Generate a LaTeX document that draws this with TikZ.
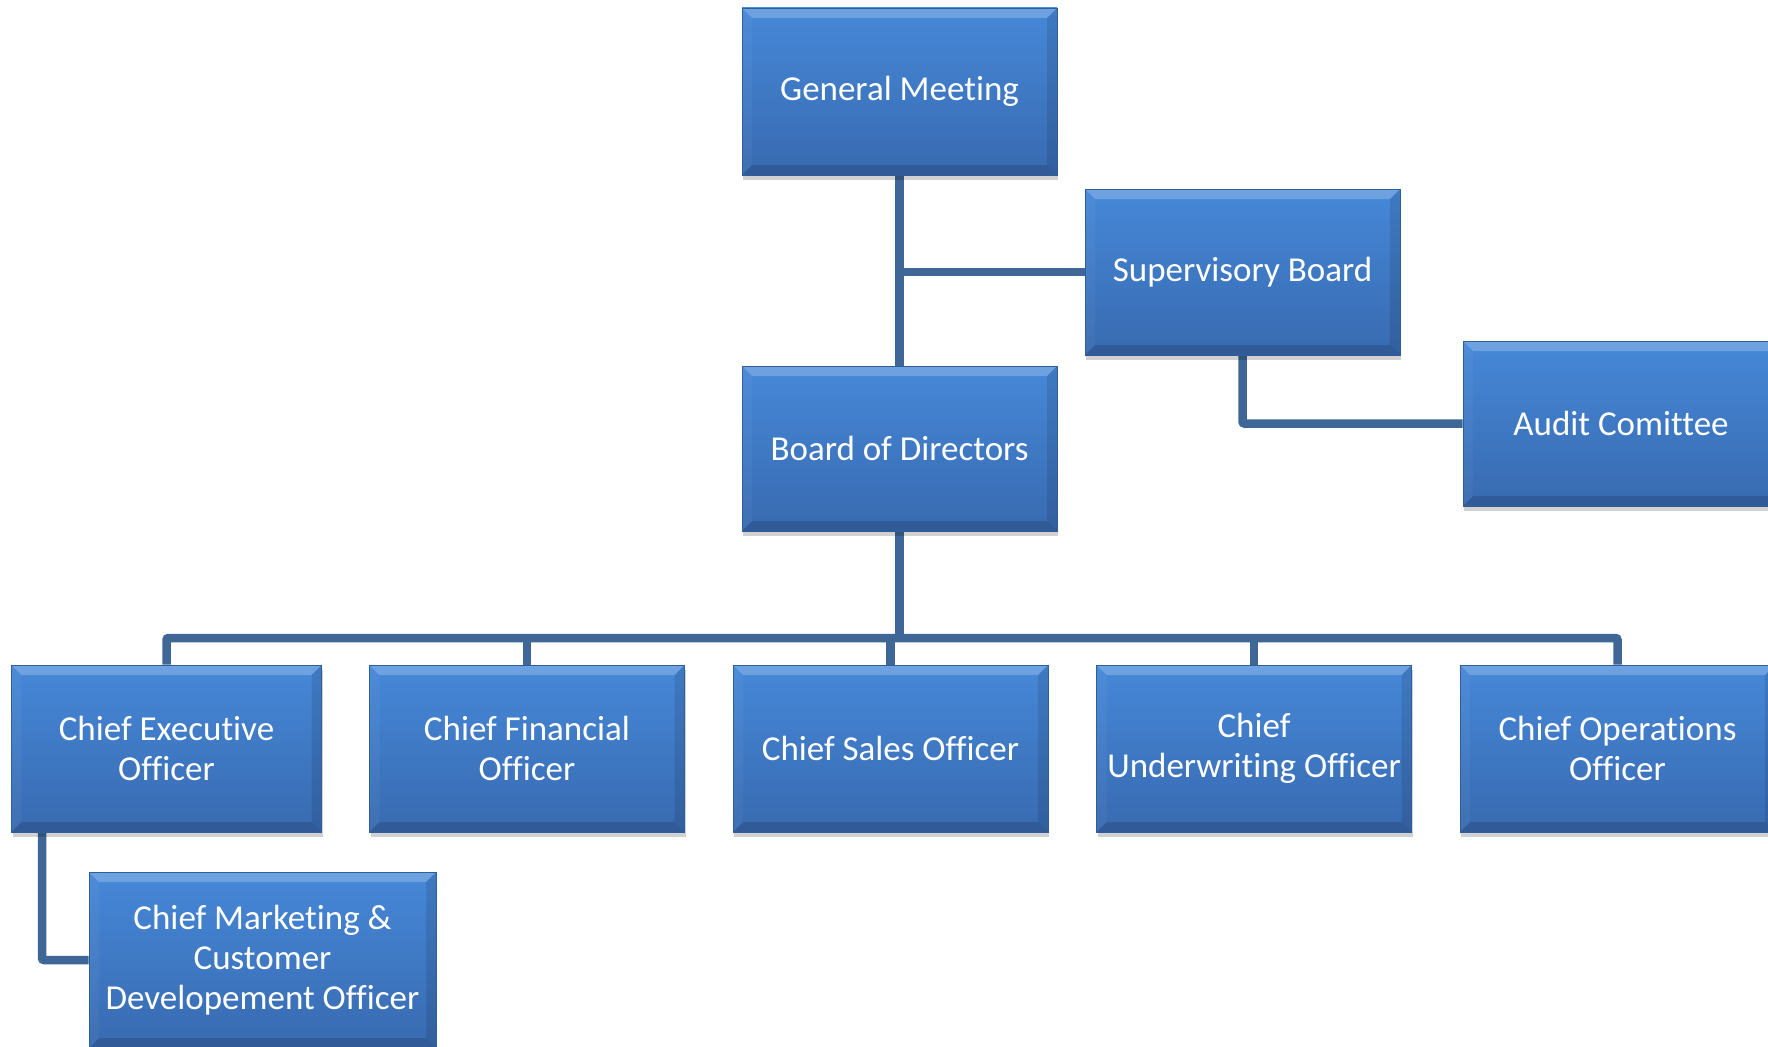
\documentclass[tikz,border=0pt]{standalone}
\usepackage{fontspec}
\setmainfont{Carlito}[Ligatures=NoCommon, RawFeature={-liga;-clig;-calt}]
\usetikzlibrary{shadows,backgrounds,calc}
\definecolor{boxTop}{RGB}{70,136,216}
\definecolor{boxBot}{RGB}{56,106,176}
\definecolor{boxEdge}{RGB}{48,94,152}
\definecolor{conn}{RGB}{62,102,150}
\def\bv{10pt}
\tikzset{
  orgbox/.style={rectangle, inner sep=0pt, align=center, text=white,
    font=\fontsize{35}{40}\selectfont,
    top color=boxTop, bottom color=boxBot, draw=boxEdge, line width=0.8pt,
    drop shadow={shadow xshift=1pt, shadow yshift=-5pt, opacity=0.18, fill=black},
    path picture={
      \fill[white,opacity=0.22] (path picture bounding box.north west) -- (path picture bounding box.north east)
        -- ([xshift=-\bv,yshift=-\bv]path picture bounding box.north east) -- ([xshift=\bv,yshift=-\bv]path picture bounding box.north west) -- cycle;
      \fill[black,opacity=0.14] (path picture bounding box.south west) -- (path picture bounding box.south east)
        -- ([xshift=-\bv,yshift=\bv]path picture bounding box.south east) -- ([xshift=\bv,yshift=\bv]path picture bounding box.south west) -- cycle;
      \fill[black,opacity=0.10] (path picture bounding box.north east) -- (path picture bounding box.south east)
        -- ([xshift=-\bv,yshift=\bv]path picture bounding box.south east) -- ([xshift=-\bv,yshift=-\bv]path picture bounding box.north east) -- cycle;
      \fill[white,opacity=0.04] (path picture bounding box.north west) -- (path picture bounding box.south west)
        -- ([xshift=\bv,yshift=\bv]path picture bounding box.south west) -- ([xshift=\bv,yshift=-\bv]path picture bounding box.north west) -- cycle;
    }},
  connector/.style={draw=conn, line width=8.5pt, rounded corners=2pt}
}
\begin{document}
\begin{tikzpicture}[x=1pt,y=-1pt]
\useasboundingbox (0,0) rectangle (1768,1046);

\node[orgbox, minimum width=315pt, minimum height=167pt] (GM) at (899.5,91.5) {General Meeting};
\node[orgbox, minimum width=315pt, minimum height=166pt] (SB) at (1242.5,272) {Supervisory Board};
\node[orgbox, minimum width=316pt, minimum height=165pt] (AC) at (1621,423.5) {Audit Comittee};
\node[orgbox, minimum width=315pt, minimum height=165pt] (BD) at (899.5,448.5) {Board of Directors};

\node[orgbox, minimum width=310pt, minimum height=167pt] (CEO) at (166.5,748.5) {Chief Executive\\Officer};
\node[orgbox, minimum width=315pt, minimum height=167pt] (CFO) at (527,748.5) {Chief Financial\\Officer};
\node[orgbox, minimum width=315pt, minimum height=167pt] (CSO) at (890.5,748.5) {Chief Sales Officer};
\node[orgbox, minimum width=315pt, minimum height=167pt] (CUO) at (1254,748.5) {Chief\\Underwriting Officer};
\node[orgbox, minimum width=315pt, minimum height=167pt] (COO) at (1617.5,748.5) {Chief Operations\\Officer};

\node[orgbox, minimum width=347pt, minimum height=176pt] (CMO) at (262.5,960) {Chief Marketing \&\\Customer\\Developement Officer};

\coordinate (bus) at (0,638);
\coordinate (cmx) at (42,0);

\begin{scope}[on background layer]
  \fill[white] (0,0) rectangle (1768,1046);
  \draw[connector] (GM.south) -- (BD.north);
  \draw[connector] (GM.south |- SB.west) -- (SB.west);
  \draw[connector] (SB.south) |- (AC.west);
  \draw[connector] (BD.south) -- (BD.south |- bus);
  \draw[connector] (CEO.north) -- (CEO.north |- bus) -- (COO.north |- bus) -- (COO.north);
  \draw[connector] (CFO.north) -- (CFO.north |- bus);
  \draw[connector] (CSO.north) -- (CSO.north |- bus);
  \draw[connector] (CUO.north) -- (CUO.north |- bus);
  \draw[connector] (cmx |- CEO.south) |- (CMO.west);
\end{scope}
\end{tikzpicture}
\end{document}
